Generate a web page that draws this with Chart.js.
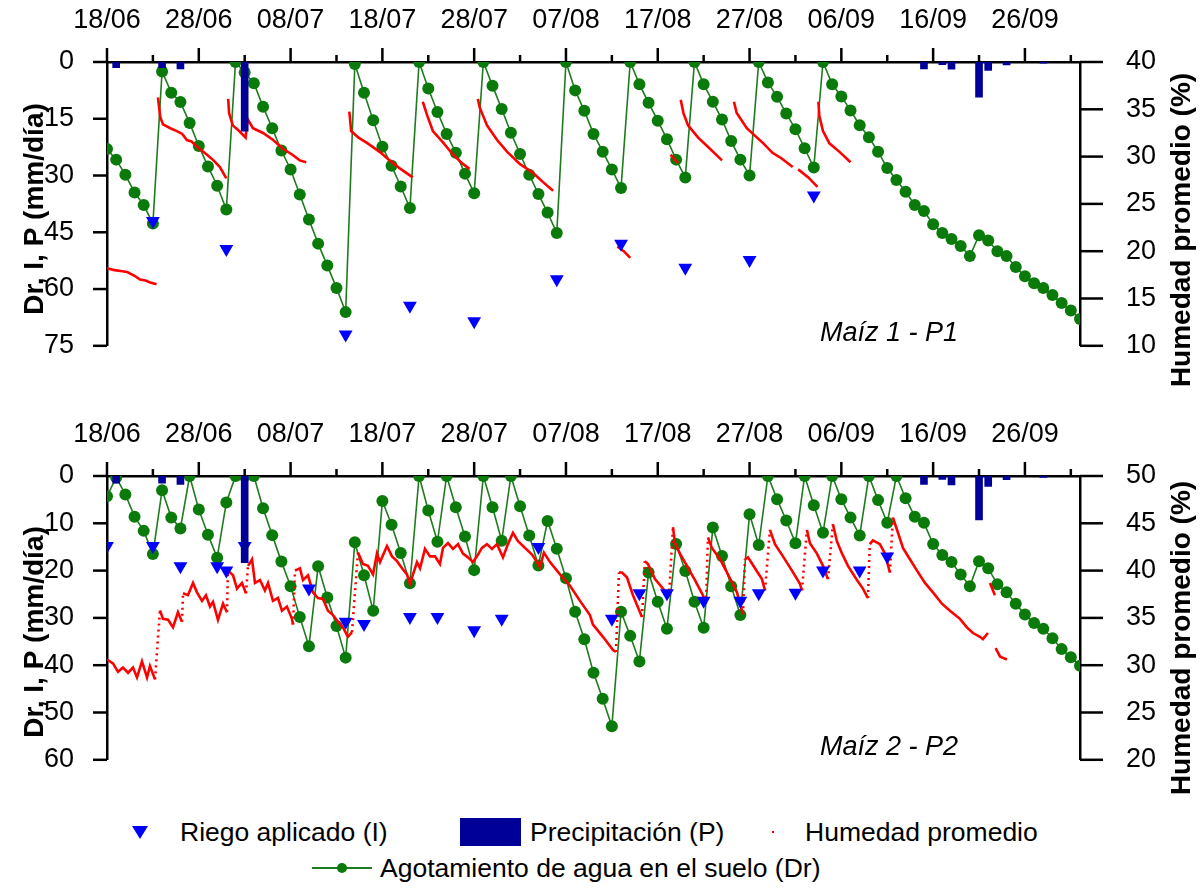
<!DOCTYPE html>
<html>
<head>
<meta charset="utf-8">
<script src="https://cdn.jsdelivr.net/npm/chart.js@4.4.1/dist/chart.umd.min.js"></script>
<style>
  body { margin: 0; background: #fff; }
  #page { position: relative; width: 1202px; height: 888px; overflow: hidden; font-family: 'Liberation Sans', Arial, sans-serif; }
  canvas { position: absolute; left: 0; }
  #c1 { top: 0; }
  #c2 { top: 414px; }
  .lg { position: absolute; font-size: 26.5px; line-height: 30px; color: #000; white-space: nowrap; }
  .sym { position: absolute; }
</style>
</head>
<body>
<div id="page">
  <canvas id="c1" width="1202" height="400"></canvas>
  <canvas id="c2" width="1202" height="400"></canvas>

  <svg class="sym" style="left:131px;top:825px" width="18" height="16"><polygon points="1,1 17,1 9,14" fill="#0000ff"/></svg>
  <div class="lg" style="left:180px;top:817px">Riego aplicado (I)</div>
  <div class="sym" style="left:460px;top:818px;width:61px;height:28px;background:#000099"></div>
  <div class="lg" style="left:530px;top:817px">Precipitación (P)</div>
  <div class="sym" style="left:772px;top:831px;width:2px;height:2px;background:#ff0000"></div>
  <div class="lg" style="left:805px;top:817px">Humedad promedio</div>
  <svg class="sym" style="left:310px;top:860px" width="64" height="16"><line x1="2" y1="8" x2="62" y2="8" stroke="#1e7b1e" stroke-width="2"/><circle cx="32" cy="8" r="5" fill="#0a7a0a"/></svg>
  <div class="lg" style="left:380px;top:853px">Agotamiento de agua en el suelo (Dr)</div>
</div>

<script>
// tick labels of the day axis (day 0 = 18/06, one label every 10 days)
const dateLabels = ['18/06','28/06','08/07','18/07','28/07','07/08','17/08','27/08','06/09','16/09','26/09'];

// precipitation (same for both plots), mm
const lluviaDays = [1, 6, 8, 15, 89, 91, 92, 95, 96, 98, 102];
const lluviaMm   = [1.5, 1.5, 1.8, 18.3, 1.8, 0.7, 1.9, 9.3, 2.2, 0.8, 0.3];

// Maíz 1 - P1
const riegoDays1 = [5, 13, 26, 33, 40, 49, 56, 63, 70, 77];
const riegoMm1   = [42, 49.4, 72, 64.4, 68.5, 57.4, 48, 54.4, 52.3, 35.3];
const dr1 = [23.0,25.8,29.8,34.5,37.8,42.7,2.5,8.1,10.6,16.1,22.2,27.6,32.7,39.0,0,2.8,5.6,11.8,17.5,23.4,
  28.4,35.0,41.6,48.0,53.8,59.7,66.1,0.5,8.1,15.4,22.4,27.4,32.9,38.6,0,7.0,13.2,19.0,24.0,29.5,
  34.7,0,6.3,12.4,18.7,24.3,29.8,34.9,39.8,45.2,0,7.5,12.9,19.0,23.7,28.4,33.3,0,5.9,10.8,
  15.5,20.4,25.8,30.5,0,5.9,10.5,15.2,20.9,25.8,30.0,0,5.4,9.2,13.6,17.8,22.8,27.9,0,5.9,
  9.1,12.8,16.7,19.9,23.7,28.0,31.2,34.3,37.8,39.4,42.9,45.2,46.8,48.6,51.3,45.8,47.2,50.0,51.3,54.2,
  56.6,58.5,59.7,61.6,63.7,65.7,67.9];
const hum1 = [
  [0,18.2],[0.8,18.0],[1.5,17.9],[2.2,17.8],[3.0,17.4],[3.6,17.0],[4.2,16.9],[4.7,16.7],[5.4,16.5],[5.45,null],
  [5.55,36.25],[5.8,34.2],[6.1,33.4],[6.9,33.0],[7.6,32.7],[8.2,32.4],[8.7,31.75],[9.2,31.6],[10.1,30.8],[10.9,30.2],[11.6,29.6],[12.3,28.9],[13.0,27.7],[13.1,null],
  [13.2,36.1],[13.3,34.6],[13.7,33.3],[14.4,32.7],[15.1,32.0],[15.3,34.0],[15.9,33.0],[17.0,32.5],[18.1,31.75],[19.2,30.8],[20.2,30.2],[21.0,29.6],[21.7,29.4],[24,null],
  [26.4,34.75],[26.6,32.7],[27.4,32.0],[28.4,31.4],[29.7,30.5],[30.8,29.6],[31.9,28.75],[33.3,27.8],[33.8,null],
  [34.4,35.8],[34.9,34.3],[35.5,32.7],[36.6,31.5],[37.7,30.2],[38.8,29.2],[39.5,28.7],[40,null],
  [40.4,36.1],[40.6,35.2],[41.4,33.3],[42.5,31.75],[43.6,30.5],[45.0,29.2],[46.4,28.3],[47.5,27.3],[48.6,26.4],[52,null],
  [55.6,20.5],[56.3,20.0],[57.0,19.3],[59,null],
  [61.4,30.2],[62.2,29.3],[62.35,null],
  [62.5,36.0],[62.8,34.6],[63.3,33.3],[64.4,32.0],[65.4,31.1],[67.0,29.6],[67.6,null],
  [68.3,35.8],[68.6,34.6],[69.7,33.0],[71.5,31.4],[72.5,30.4],[73.5,29.8],[74.7,28.9],[75.0,null],
  [75.3,28.65],[76.4,27.8],[77.4,26.8],[77.45,null],
  [77.5,35.8],[77.6,34.3],[78.0,32.7],[78.7,31.4],[79.8,30.5],[81.0,29.4]
];

// Maíz 2 - P2
const riegoDays2 = [0, 5, 8, 12, 13, 15, 22, 26, 28, 33, 36, 40, 43, 47, 55, 58, 61, 65, 69, 71, 75, 78, 82, 85];
const riegoMm2   = [14.8, 14.8, 19.1, 19.1, 20, 14.8, 23.8, 30.8, 31.3, 29.8, 29.8, 32.6, 30.2, 15, 30.2, 24.8, 24.8, 26.4, 26.4, 24.8, 24.7, 20, 20, 17];
const dr2 = [4.3,0.3,3.9,8.6,11.6,16.5,3.0,8.8,11.1,0,7.1,12.4,17.3,5.6,0,0,0,6.8,12.5,18.1,
  23.3,29.8,36.0,19.1,25.7,31.7,38.4,14.0,21.0,28.5,5.3,10.3,16.3,22.7,0,7.3,13.9,0,6.6,12.8,
  19.9,0,6.6,13.7,0,6.4,12.6,18.9,9.5,15.4,21.6,28.7,34.5,41.6,47.1,52.9,28.7,33.8,39.2,20.4,
  26.6,32.3,14.4,20.1,26.6,32.1,10.9,16.9,23.3,29.4,8.1,14.6,0,4.9,9.4,14.2,0,6.2,12.0,0,
  4.9,8.8,12.6,0,5.1,9.9,0,4.7,8.6,9.9,14.4,16.7,18.2,20.8,23.3,18.0,19.5,22.9,24.6,27.0,
  29.3,31.1,32.3,34.3,36.6,38.3,40.1];
const hum2 = [
  [0,30.6],[0.65,30.2],[1.2,29.3],[1.74,29.75],[2.29,29.2],[2.83,29.75],[3.27,28.7],[3.81,30.4],[4.36,28.7],[4.68,29.9],[5.23,28.5],
  [5.77,35.8],[6.1,34.9],[6.65,34.8],[7.19,34.0],[7.73,35.6],[8.17,34.6],[8.28,37.6],[8.82,37.4],[9.37,38.7],[9.8,37.7],[10.35,36.8],[10.78,37.4],[11.22,36.2],[11.55,36.7],[12.09,34.8],[12.64,36.5],[13.07,35.6],
  [13.18,40.0],[13.73,39.5],[14.16,38.1],[14.7,38.7],[15.14,37.6],[15.36,40.5],[15.8,41.2],[16.12,38.7],[16.67,39.0],[17.2,37.9],[17.54,38.7],[18.08,36.8],[18.63,37.1],[19.06,35.75],[19.6,36.2],[20.15,34.9],[20.26,34.3],
  [20.48,40.0],[21.02,40.25],[21.35,39.0],[21.9,39.5],[22.44,37.7],[22.98,37.1],[23.53,37.0],[24.07,35.75],[24.62,35.3],[25.16,34.6],[25.7,34.0],[26.25,33.0],[26.69,33.5],
  [27.34,41.9],[27.89,40.7],[28.43,40.5],[28.98,39.6],[29.41,41.8],[29.74,40.9],[30.5,42.6],[31.05,41.5],[31.59,41.0],[32.14,40.25],[32.68,39.6],[33.0,38.6],
  [33.77,40.9],[34.1,40.25],[34.64,42.3],[35.19,41.5],[35.73,41.5],[36.27,40.7],[36.6,42.4],[37.15,42.9],[37.69,42.3],[38.24,42.8],[38.78,41.8],[39.32,41.4],
  [39.87,40.9],[40.3,41.5],[40.85,42.4],[41.39,42.8],[41.94,42.3],[42.48,42.8],[43.14,41.4],[43.68,42.8],[44.23,44.0],[44.77,43.1],[45.53,42.4],[46.3,41.7],
  [46.84,40.9],[47.17,40.4],[47.6,41.9],[48.26,40.9],[49.35,39.6],[50.44,38.4],[51.53,36.8],[52.61,35.3],[52.94,34.3],[54.03,33.0],[55.12,31.6],[55.45,31.4],
  [55.77,39.8],[56.1,39.8],[56.64,39.3],[57.3,37.4],[58.28,35.1],
  [58.6,41.0],[58.93,40.7],[59.7,39.1],[60.57,38.1],[61.22,37.25],
  [61.66,44.6],[61.87,42.9],[62.42,41.8],[63.18,40.5],[64.05,39.0],[64.92,37.4],[65.25,36.5],
  [65.47,43.5],[65.9,42.4],[66.78,41.2],[67.65,39.6],[68.63,37.7],[69.28,35.4],
  [69.5,41.2],[69.83,41.4],[70.59,40.25],[71.35,39.1],[71.68,37.9],
  [72.22,44.3],[72.77,42.8],[73.64,41.5],[74.62,40.0],[75.49,38.6],[75.71,37.9],
  [76.25,44.3],[76.58,42.9],[77.34,41.8],[78.0,40.5],[78.54,39.1],
  [79.08,44.9],[79.52,43.1],[80.07,41.8],[80.72,40.5],[81.7,39.0],[82.35,38.1],[82.9,37.1],
  [83.1,42.8],[83.44,43.2],[84.2,42.8],[84.75,41.8],[85.29,39.8],
  [85.62,45.6],[86.17,44.0],[86.71,42.4],[87.47,41.2],[88.24,40.0],[89.11,38.7],[89.98,37.7],[90.96,36.5],[91.83,35.75],[92.92,34.9],
  [93.68,34.0],[94.34,33.4],[95.1,33.0],[95.42,32.75],[95.97,33.4],[96.05,null],
  [96.19,38.7],[96.73,37.4],[96.75,null],
  [96.8,31.8],[97.3,30.9],[98.04,30.6]
];

const FONT = "'Liberation Sans', Arial, sans-serif";
Chart.defaults.font.family = FONT;
Chart.defaults.font.size = 27;
Chart.defaults.color = '#000';

// axis tick marks (long labelled / short minor), y titles and panel name
const decor = {
  id: 'decor',
  afterDraw(chart, args, o) {
    const ctx = chart.ctx, a = chart.chartArea;
    ctx.save();
    ctx.strokeStyle = '#000';
    ctx.fillStyle = '#000';
    ctx.lineWidth = 2.5;
    o.marks.forEach(m => {
      const s = chart.scales[m.id];
      s.ticks.forEach(t => {
        const len = Math.abs(t.value % m.every) < 1e-6 ? m.major : m.minor;
        const p = s.getPixelForValue(t.value);
        ctx.beginPath();
        if (s.position === 'top') { ctx.moveTo(p, a.top); ctx.lineTo(p, a.top - len); }
        else if (s.position === 'left') { ctx.moveTo(a.left, p); ctx.lineTo(a.left - len, p); }
        else { ctx.moveTo(a.right, p); ctx.lineTo(a.right + len, p); }
        ctx.stroke();
      });
    });
    ctx.font = 'bold 28px ' + FONT;
    ctx.textAlign = 'center';
    ctx.textBaseline = 'alphabetic';
    [[o.leftTitle, 43, o.leftY], [o.rightTitle, 1190, o.rightY]].forEach(([txt, x, y]) => {
      ctx.save();
      ctx.translate(x, y);
      ctx.rotate(-Math.PI / 2);
      ctx.fillText(txt, 0, 0);
      ctx.restore();
    });
    ctx.font = 'italic 27px ' + FONT;
    ctx.textAlign = 'left';
    ctx.fillText(o.note, 820, a.bottom - 5);
    ctx.restore();
  }
};

function steep(ctx) {
  const dx = ctx.p1.parsed.x - ctx.p0.parsed.x;
  const dy = Math.abs(ctx.p1.parsed.y - ctx.p0.parsed.y);
  return (dy > 2.5 && dy / dx > 10) ? [2, 4] : undefined;
}

function panel(id, p) {
  return new Chart(document.getElementById(id), {
    type: 'line',
    data: {
      datasets: [
        { type: 'bar', label: 'Precipitación (P)', data: lluviaDays.map((d, i) => ({ x: d, y: lluviaMm[i] })),
          backgroundColor: '#000099', borderWidth: 0, barThickness: 7, yAxisID: 'y', order: 0 },
        { label: 'Riego aplicado (I)', data: p.riegoDays.map((d, i) => ({ x: d, y: p.riegoMm[i] })),
          showLine: false, pointStyle: 'triangle', pointRotation: 180, pointRadius: 8,
          pointBackgroundColor: '#0000ff', pointBorderColor: '#0000ff', pointBorderWidth: 0, yAxisID: 'y', order: 1 },
        { label: 'Humedad promedio', data: p.hum.map(([d, h]) => ({ x: d, y: h })),
          borderColor: '#ff0000', borderWidth: 2.6, pointRadius: 0, spanGaps: false, yAxisID: 'y1', order: 2,
          segment: p.dashed ? { borderDash: steep } : {} },
        { label: 'Agotamiento de agua en el suelo (Dr)', data: p.dr.map((v, i) => ({ x: i, y: v })),
          borderColor: '#1e7b1e', borderWidth: 1.6, pointRadius: 6, pointBackgroundColor: '#0a7a0a',
          pointBorderWidth: 0, yAxisID: 'y', order: 3 }
      ]
    },
    options: {
      responsive: false,
      animation: false,
      layout: { padding: { left: 0, right: 0, top: 0, bottom: 18 } },
      plugins: {
        legend: { display: false },
        tooltip: { enabled: false },
        decor: {
          marks: [
            { id: 'x', every: 10, major: 14, minor: 7 },
            { id: 'y', every: p.yMajor, major: 14, minor: 7 },
            { id: 'y1', every: 5, major: 23, minor: 13 }
          ],
          leftTitle: 'Dr, I, P (mm/día)', leftY: p.leftY,
          rightTitle: 'Humedad promedio (%)', rightY: p.rightY,
          note: p.note
        }
      },
      scales: {
        x: {
          type: 'linear', position: 'top', min: 0, max: 106, offset: false,
          grid: { display: false },
          border: { display: true, color: '#000', width: 2.5 },
          ticks: { stepSize: 5, includeBounds: false, autoSkip: false, maxRotation: 0, minRotation: 0, padding: 17,
                   callback: v => (v % 10 === 0 ? dateLabels[v / 10] : '') },
          afterFit: s => { s.height = 62; }
        },
        y: {
          type: 'linear', position: 'left', reverse: true, min: 0, max: p.yMax,
          grid: { display: false },
          border: { display: true, color: '#000', width: 2.5 },
          ticks: { stepSize: p.yMajor / 2, includeBounds: false, padding: 25,
                   callback: v => (v % p.yMajor === 0 ? v : '') },
          afterFit: s => { s.width = 107; }
        },
        y1: {
          type: 'linear', position: 'right', min: p.hMin, max: p.hMax,
          grid: { display: false },
          border: { display: true, color: '#000', width: 2.5 },
          ticks: { stepSize: 2.5, includeBounds: false, padding: 38,
                   callback: v => (v % 5 === 0 ? v : '') },
          afterFit: s => { s.width = 122; }
        }
      }
    },
    plugins: [decor]
  });
}

panel('c1', { dr: dr1, hum: hum1, riegoDays: riegoDays1, riegoMm: riegoMm1, yMax: 75, yMajor: 15,
  hMin: 10, hMax: 40, note: 'Maíz 1 - P1', leftY: 209, rightY: 230, dashed: false });
panel('c2', { dr: dr2, hum: hum2, riegoDays: riegoDays2, riegoMm: riegoMm2, yMax: 60, yMajor: 10,
  hMin: 20, hMax: 50, note: 'Maíz 2 - P2', leftY: 218, rightY: 224, dashed: true });
</script>
</body>
</html>
